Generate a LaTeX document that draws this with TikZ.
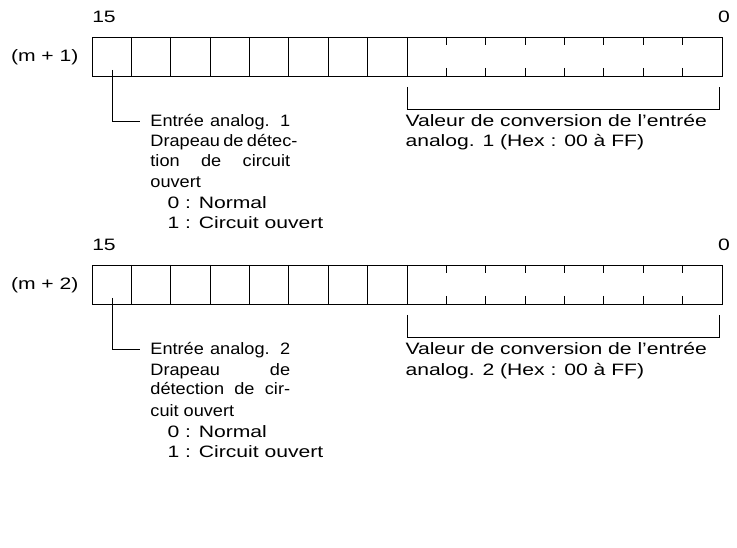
\documentclass[tikz,border=0pt]{standalone}
\usepackage{fontspec}
\setmainfont{Liberation Sans}
\begin{document}
\begin{tikzpicture}[x=1pt,y=-1pt,line width=0.8pt,
  fnt/.style={inner sep=0pt,font=\fontsize{16.5}{18}\selectfont,transform shape,xscale=1.28},
  txt/.style={fnt,anchor=base west},
  jtxt/.style={inner sep=0pt,font=\fontsize{16.5}{18}\selectfont,transform shape,xscale=1.1,anchor=base west},
  lbl/.style={fnt,anchor=base}]
\useasboundingbox (0,0) rectangle (737,548);
\foreach \r/\t/\m/\a/\b/\c/\d/\n in {0/m + 1/1/Entrée analog. 1/Drapeau de détec-/tion de circuit/ouvert/1,228/m + 2/2/Entrée analog. 2/Drapeau de/détection de cir-/cuit ouvert/2}{
  \begin{scope}[yshift=-\r]
  \node[lbl] (hi\n) at (104,23) {15};
  \node[lbl] (lo\n) at (724,23) {0};
  \node[fnt,anchor=base east] (reg\n) at (79,62) {(\t)};
  \draw (92,37) rectangle (722,76);
  \foreach \i in {1,...,8} \draw ({92+\i*39.375},37) -- ({92+\i*39.375},76);
  \foreach \i in {9,...,15} {
    \draw ({92+\i*39.375},37) -- ({92+\i*39.375},45);
    \draw ({92+\i*39.375},68) -- ({92+\i*39.375},76);}
  \coordinate (ls\n) at (112,70);
  \coordinate (le\n) at (140,121);
  \draw (ls\n) |- (le\n);
  \draw (407,87) -- (407,109) -- (719,109) -- (719,87);
  \node[jtxt] at (150,127) {\makebox[127pt][s]{\a}};
  \node[jtxt] at (150,147) {\makebox[127pt][s]{\b}};
  \node[jtxt] at (150,167) {\makebox[127pt][s]{\c}};
  \node[jtxt] at (150,188) {\d};
  \node[txt] at (167,209) {0 : Normal};
  \node[txt] at (167,229) {1 : Circuit ouvert};
  \node[txt] at (405,127) {Valeur de conversion de l’entrée};
  \node[txt] at (405,147) {analog. \m{} (Hex : 00 à FF)};
  \end{scope}}
\end{tikzpicture}
\end{document}
